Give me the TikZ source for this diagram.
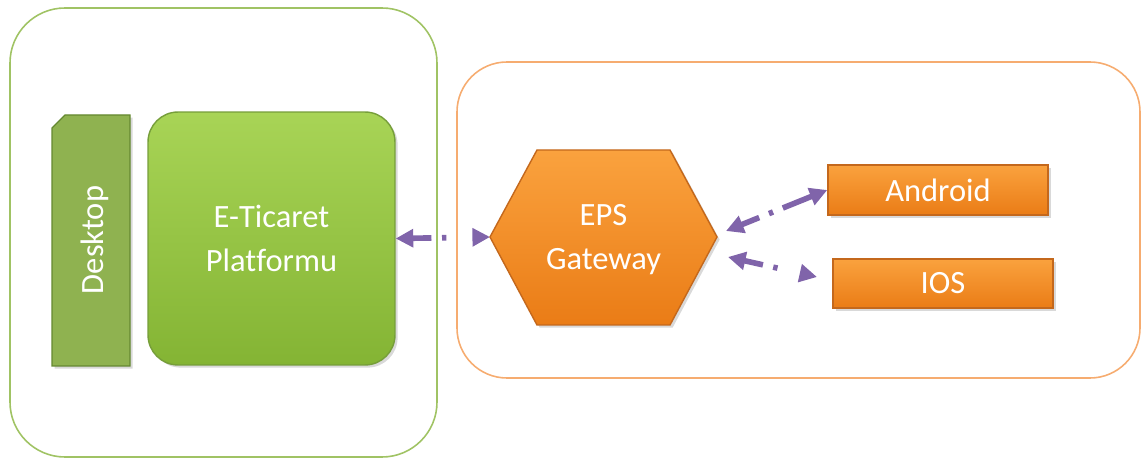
\documentclass[tikz,border=0pt]{standalone}
\usepackage{fontspec}
\setmainfont{Carlito}[Ligatures=NoCommon]
\usetikzlibrary{arrows.meta,shadows}

\definecolor{greenline}{RGB}{160,195,100}
\definecolor{orangeline}{RGB}{246,172,112}
\definecolor{purplelink}{RGB}{128,100,170}

\begin{document}
\begin{tikzpicture}[x=0.02cm,y=-0.02cm]

	\tikzstyle outer frame=[line width=0.9pt];
	\tikzstyle soft shadow=[drop shadow={opacity=0.3,shadow xshift=1.5pt,shadow yshift=-1.5pt}];
	\tikzstyle label text=[text=white,align=center,font=\fontsize{18.5}{25}\selectfont];
	\tikzstyle green block=[soft shadow,draw={rgb,255:red,118;green,158;blue,58},line width=0.8pt,
		top color={rgb,255:red,168;green,212;blue,86},bottom color={rgb,255:red,132;green,180;blue,52}];
	\tikzstyle orange block=[soft shadow,draw={rgb,255:red,196;green,104;blue,28},line width=0.8pt,
		top color={rgb,255:red,250;green,162;blue,62},bottom color={rgb,255:red,234;green,124;blue,22}];
	\tikzstyle link=[purplelink,line width=3.2pt,{Triangle[length=10pt,width=10pt]}-{Triangle[length=10pt,width=10pt]}];

	\useasboundingbox (0,0) rectangle (1147,462);

	% the two frames
	\draw[outer frame,greenline,rounded corners=1.1cm] (10,8) rectangle (437,457);
	\draw[outer frame,orangeline,rounded corners=1cm] (457,62) rectangle (1140,378);

	% left side
	\draw[soft shadow,draw={rgb,255:red,100;green,136;blue,48},line width=0.8pt,fill={rgb,255:red,143;green,178;blue,80}]
		(52,128) -- (65,115) -- (130,115) -- (130,366) -- (52,366) -- cycle;
	\node[label text,rotate=90] (desk) at (95,240) {Desktop};

	\node[green block,rounded corners=0.6cm,minimum width=4.94cm,minimum height=5.06cm,label text] (plat) at (271.5,238.5) {E-Ticaret\\Platformu};

	% gateway
	\draw[orange block] (490,237) -- (537,150) -- (670,150) -- (717,237) -- (670,325) -- (537,325) -- cycle;
	\node[label text] (eps) at (603.5,240) {EPS\\Gateway};
	\coordinate (epsW) at (490,237);
	\coordinate (epsNE) at (726,231);
	\coordinate (epsSE) at (728,257);

	% clients
	\node[orange block,minimum width=4.4cm,minimum height=1cm,label text] (andr) at (938,190) {Android};
	\node[orange block,minimum width=4.4cm,minimum height=0.98cm,label text] (ios) at (943,283.5) {IOS};
	\coordinate (iosIn) at (817,277);

	\draw[link,dash pattern=on 11pt off 6pt on 2.5pt off 40pt] (plat.east) -- (epsW);
	\draw[link,dash pattern=on 11pt off 6pt on 2.5pt off 6pt on 20pt] (epsNE) -- (andr.west);
	\draw[link,dash pattern=on 11pt off 6pt on 2.5pt off 40pt] (epsSE) -- (iosIn);

\end{tikzpicture}
\end{document}
